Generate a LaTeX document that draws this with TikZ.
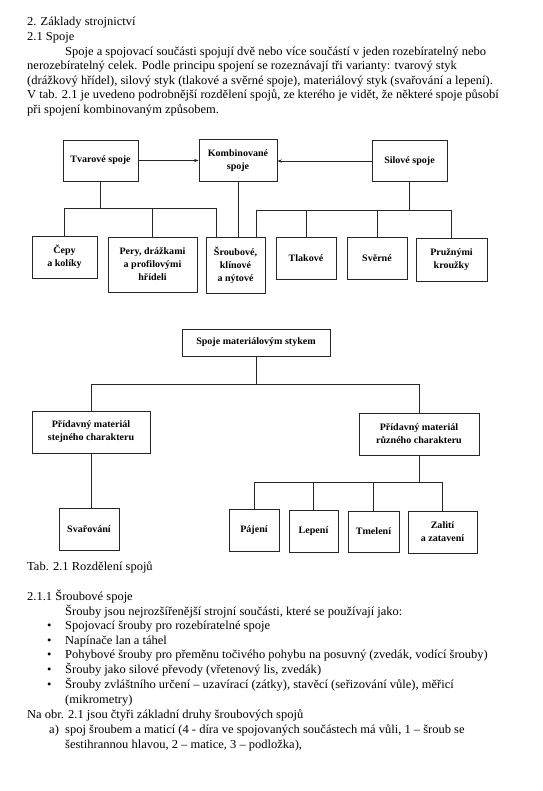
\documentclass[tikz,border=0pt]{standalone}
\usepackage{fontspec}
\setmainfont{Liberation Serif}[FakeStretch=1.025]
\usetikzlibrary{arrows.meta}
\begin{document}
\begin{tikzpicture}[x=1pt,y=-1pt,
  bx/.style={draw=black!85,line width=0.75pt,rectangle,inner sep=0pt,align=center,
    font=\fontsize{9.8}{13}\selectfont\bfseries},
  ln/.style={draw=black!85,line width=0.75pt},
  arr/.style={ln,-{Stealth[length=4.5pt,width=3.2pt]}},
  body/.style={anchor=base west,inner sep=0pt,font=\fontsize{12.2}{14}\selectfont}]
\useasboundingbox[fill=white] (0,0) rectangle (542,791);

% ---- top text ----
\node[body] (t1) at (27,26) {2. Základy strojnictví};
\node[body] (t2) at (27,40.6) {2.1 Spoje};
\node[body] (t3) at (65,55.2) {Spoje a spojovací součásti spojují dvě nebo více součástí v jeden rozebíratelný nebo};
\node[body] (t4) at (27,69.8) {nerozebíratelný celek. Podle principu spojení se rozeznávají tři varianty: tvarový styk};
\node[body] (t5) at (27,84.4) {(drážkový hřídel), silový styk (tlakové a svěrné spoje), materiálový styk (svařování a lepení).};
\node[body] (t6) at (27,99) {V tab. 2.1 je uvedeno podrobnější rozdělení spojů, ze kterého je vidět, že některé spoje působí};
\node[body] (t7) at (27,113.6) {při spojení kombinovaným způsobem.};

% ---- upper diagram ----
\node[bx,minimum width=75pt,minimum height=41pt] (tvar) at (100.5,160.5) {Tvarové spoje};
\node[bx,minimum width=78pt,minimum height=42pt] (komb) at (238,160.5) {Kombinované\\spoje};
\node[bx,minimum width=75pt,minimum height=41pt] (silove) at (409.5,161) {Silové spoje};

\node[bx,minimum width=65pt,minimum height=42pt] (cepy) at (64.5,257) {Čepy\\a kolíky};
\node[bx,minimum width=89pt,minimum height=55pt] (pery) at (152.5,264.5) {Pery, drážkami\\a profilovými\\hřídeli};
\node[bx,minimum width=59pt,minimum height=56pt] (sroub) at (235.5,265) {Šroubové,\\klínové\\a nýtové};
\node[bx,minimum width=60pt,minimum height=42pt] (tlak) at (306,258) {Tlakové};
\node[bx,minimum width=60pt,minimum height=42pt] (sver) at (377,258) {Svěrné};
\node[bx,minimum width=71pt,minimum height=43pt] (pruz) at (451.5,259.5) {Pružnými\\kroužky};

\draw[arr] (tvar.east) -- (komb.west);
\draw[arr] (silove.west) -- (komb.east |- silove.west);

\coordinate (bL) at (100.5,208);
\coordinate (s1) at ([xshift=11pt]sroub.north west);
\coordinate (s2) at ([xshift=-9pt]sroub.north east);
\draw[ln] (tvar.south) -- (tvar.south |- bL);
\draw[ln] (cepy.north) -- (cepy.north |- bL) -- (s1 |- bL) -- (s1);
\draw[ln] (pery.north) -- (pery.north |- bL);
\draw[ln] (komb.south) -- (komb.south |- sroub.north);

\coordinate (bR) at (409.5,210);
\draw[ln] (silove.south) -- (bR);
\draw[ln] (s2) -- (s2 |- bR) -- (pruz.north |- bR) -- (pruz.north);
\draw[ln] (tlak.north) -- (tlak.north |- bR);
\draw[ln] (sver.north) -- (sver.north |- bR);

% ---- lower diagram ----
\node[bx,minimum width=148pt,minimum height=27pt] (sms) at (256,342.5) {Spoje materiálovým stykem};
\node[bx,minimum width=118pt,minimum height=42pt] (ps) at (91,432) {Přídavný materiál\\stejného charakteru};
\node[bx,minimum width=120pt,minimum height=42pt] (pr) at (419,434) {Přídavný materiál\\různého charakteru};
\node[bx,minimum width=60pt,minimum height=42pt] (svar) at (89,529) {Svařování};
\node[bx,minimum width=50pt,minimum height=42pt] (paj) at (254,530) {Pájení};
\node[bx,minimum width=49pt,minimum height=42pt] (lep) at (313.5,531) {Lepení};
\node[bx,minimum width=51pt,minimum height=41pt] (tme) at (373.5,531.5) {Tmelení};
\node[bx,minimum width=69pt,minimum height=42pt] (zal) at (442.5,532) {Zalití\\a zatavení};

\coordinate (bM) at (256,384);
\draw[ln] (sms.south) -- (bM);
\draw[ln] (ps.north) -- (ps.north |- bM) -- (pr.north |- bM) -- (pr.north);
\draw[ln] (ps.south) -- (ps.south |- svar.north);

\coordinate (bB) at (419,482);
\draw[ln] (pr.south) -- (bB);
\draw[ln] (paj.north) -- (paj.north |- bB) -- (zal.north |- bB) -- (zal.north);
\draw[ln] (lep.north) -- (lep.north |- bB);
\draw[ln] (tme.north) -- (tme.north |- bB);

% ---- bottom text ----
\node[body] (cap) at (27,570) {Tab. 2.1 Rozdělení spojů};
\node[body] (h211) at (27,600) {2.1.1 Šroubové spoje};
\node[body] (b0) at (65,615) {Šrouby jsou nejrozšířenější strojní součásti, které se používají jako:};
\node[body] (d1) at (47,629.5) {•};
\node[body] (b1) at (65,629.5) {Spojovací šrouby pro rozebíratelné spoje};
\node[body] (d2) at (47,644) {•};
\node[body] (b2) at (65,644) {Napínače lan a táhel};
\node[body] (d3) at (47,658.5) {•};
\node[body] (b3) at (65,658.5) {Pohybové šrouby pro přeměnu točivého pohybu na posuvný (zvedák, vodící šrouby)};
\node[body] (d4) at (47,673) {•};
\node[body] (b4) at (65,673) {Šrouby jako silové převody (vřetenový lis, zvedák)};
\node[body] (d5) at (47,688) {•};
\node[body] (b5) at (65,688) {Šrouby zvláštního určení – uzavírací (zátky), stavěcí (seřizování vůle), měřicí};
\node[body] (b5b) at (65,703) {(mikrometry)};
\node[body] (na) at (27,718) {Na obr. 2.1 jsou čtyři základní druhy šroubových spojů};
\node[body] (la) at (49,733) {a)};
\node[body] (a1) at (65,733) {spoj šroubem a maticí (4 - díra ve spojovaných součástech má vůli, 1 – šroub se};
\node[body] (a2) at (65,748) {šestihrannou hlavou, 2 – matice, 3 – podložka),};
\end{tikzpicture}
\end{document}
